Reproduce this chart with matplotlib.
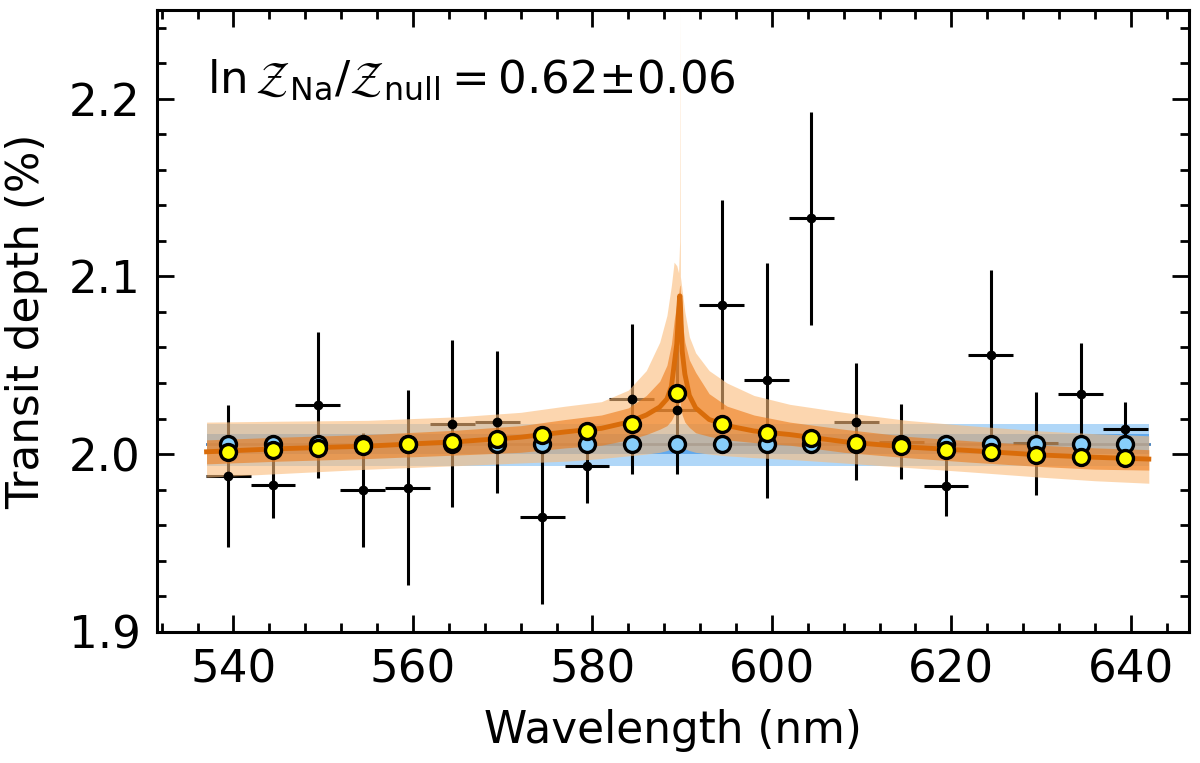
import matplotlib
matplotlib.use("Agg")
import matplotlib.pyplot as plt
from matplotlib.ticker import MultipleLocator, FormatStrFormatter

plt.rcParams['font.family'] = ['DejaVu Sans']
plt.rcParams['mathtext.fontset'] = 'dejavusans'

# binned data (nm, transit depth %)
wl = [539.4, 544.4, 549.4, 554.4, 559.4, 564.4, 569.4, 574.4, 579.4, 584.4, 589.4,
      594.4, 599.4, 604.4, 609.4, 614.4, 619.4, 624.4, 629.4, 634.4, 639.4]
wl_err = [2.5] * 21
depth = [1.9877, 1.9828, 2.0278, 1.9797, 1.9811, 2.0170, 2.0180, 1.9647, 1.9933, 2.0310, 2.0250,
         2.0841, 2.0415, 2.1327, 2.0183, 2.0070, 1.9819, 2.0555, 2.0062, 2.0336, 2.0144]
depth_err = [0.040, 0.019, 0.041, 0.032, 0.055, 0.047, 0.040, 0.049, 0.021, 0.042, 0.036,
             0.059, 0.066, 0.060, 0.033, 0.021, 0.017, 0.048, 0.029, 0.029, 0.015]

# binned models
flat_binned = [2.0058] * 21
na_binned = [2.0011, 2.0022, 2.0035, 2.0045, 2.0054, 2.0067, 2.0086, 2.0106, 2.0129, 2.0170, 2.0346,
             2.0172, 2.0121, 2.0093, 2.0065, 2.0047, 2.0024, 2.0009, 1.9996, 1.9985, 1.9976]

# flat model posterior
flat_wl = [537.0, 642.0]
flat_med = [2.0058, 2.0058]
flat_lo1 = [1.9998, 1.9998]
flat_hi1 = [2.0114, 2.0114]
flat_lo2 = [1.9935, 1.9935]
flat_hi2 = [2.0172, 2.0172]

# Na model posterior
na_wl = [537.0, 545.0, 555.0, 565.0, 572.0, 577.0, 581.0, 584.0, 586.0, 587.5, 588.3, 588.8,
         589.1, 589.4, 589.6, 589.72, 589.76, 589.8, 590.0, 590.3, 590.8, 591.5, 593.0,
         595.0, 598.0, 602.0, 608.0, 615.0, 622.0, 630.0, 636.0, 642.0]
na_med = [2.0013, 2.0030, 2.0045, 2.0070, 2.0095, 2.0125, 2.0145, 2.0180, 2.0220, 2.0265, 2.0310, 2.0380,
          2.0500, 2.0620, 2.0800, 2.0890, 2.0890, 2.0850, 2.0580, 2.0450, 2.0330, 2.0260, 2.0195,
          2.0160, 2.0130, 2.0110, 2.0070, 2.0040, 2.0020, 1.9995, 1.9982, 1.9972]
na_hi1 = [2.0080, 2.0095, 2.0110, 2.0135, 2.0160, 2.0195, 2.0220, 2.0260, 2.0330, 2.0410, 2.0500, 2.0620,
          2.0750, 2.0850, 2.0900, 2.0950, 2.0950, 2.0920, 2.0750, 2.0630, 2.0530, 2.0460, 2.0340,
          2.0270, 2.0220, 2.0180, 2.0140, 2.0100, 2.0075, 2.0050, 2.0035, 2.0025]
na_lo1 = [1.9945, 1.9960, 1.9975, 1.9995, 2.0010, 2.0035, 2.0050, 2.0080, 2.0110, 2.0140, 2.0160, 2.0190,
          2.0220, 2.0250, 2.0280, 2.0300, 2.0300, 2.0280, 2.0220, 2.0180, 2.0150, 2.0120, 2.0100,
          2.0080, 2.0065, 2.0050, 2.0010, 1.9980, 1.9955, 1.9930, 1.9915, 1.9910]
na_hi2 = [2.0180, 2.0185, 2.0190, 2.0210, 2.0235, 2.0270, 2.0295, 2.0360, 2.0470, 2.0630, 2.0780, 2.0950,
          2.1080, 2.1060, 2.1020, 2.1200, 2.2500, 2.1000, 2.0920, 2.0800, 2.0660, 2.0570, 2.0470,
          2.0400, 2.0330, 2.0280, 2.0235, 2.0190, 2.0160, 2.0130, 2.0115, 2.0103]
na_lo2 = [1.9870, 1.9890, 1.9915, 1.9935, 1.9950, 1.9960, 1.9975, 1.9990, 2.0000, 2.0010, 2.0020, 2.0030,
          2.0040, 2.0050, 2.0050, 2.0050, 2.0050, 2.0050, 2.0040, 2.0030, 2.0020, 2.0010, 2.0000,
          1.9990, 1.9980, 1.9970, 1.9950, 1.9925, 1.9900, 1.9870, 1.9850, 1.9836]

fig = plt.figure(figsize=(12, 7.63), dpi=100)
ax = fig.add_axes([0.131, 0.172, 0.860, 0.815])

# flat model bands (under the data)
ax.fill_between(flat_wl, flat_lo2, flat_hi2, color='#b0d7f8', lw=0, zorder=1)
ax.fill_between(flat_wl, flat_lo1, flat_hi1, color='#62aaee', lw=0, zorder=1.1)
ax.plot(flat_wl, flat_med, color='#3a78b8', lw=2, zorder=1.2)

# data: error lines under the Na bands, dots on top
ax.errorbar(wl, depth, xerr=wl_err, yerr=depth_err, fmt='none', ecolor='k',
            elinewidth=2.2, capsize=0, zorder=2)
ax.plot(wl, depth, 'o', color='k', ms=6, zorder=3.5)

# Na model bands
ax.fill_between(na_wl, na_lo2, na_hi2, color='#fbbc7a', alpha=0.6, lw=0, zorder=3)
ax.fill_between(na_wl, na_lo1, na_hi1, color='#ed7b19', alpha=0.6, lw=0, zorder=3.1)
ax.plot(na_wl, na_med, color='#d96c0a', lw=3.5, zorder=3.2)

# binned models
ax.plot(wl, flat_binned, 'o', color='#87cefa', mec='k', ms=11.5, mew=2.4, zorder=4)
ax.plot(wl, na_binned, 'o', color='#ffff00', mec='k', ms=11.5, mew=2.4, zorder=5)

ax.text(0.048, 0.887, r'$\ln\mathcal{Z}_{\rm Na}/\mathcal{Z}_{\rm null}=$0.62±0.06',
        transform=ax.transAxes, fontsize=32.5, ha='left', va='center')

ax.set_xlim(531.5, 646.5)
ax.set_ylim(1.9, 2.25)
ax.xaxis.set_major_locator(MultipleLocator(20))
ax.xaxis.set_minor_locator(MultipleLocator(4))
ax.yaxis.set_major_locator(MultipleLocator(0.1))
ax.yaxis.set_minor_locator(MultipleLocator(0.02))
ax.yaxis.set_major_formatter(FormatStrFormatter('%.1f'))

ax.tick_params(which='both', direction='in', top=True, right=True, width=2, labelsize=32.5, pad=12)
ax.tick_params(which='major', length=12)
ax.tick_params(which='minor', length=6.5)
for s in ax.spines.values():
    s.set_linewidth(2.2)

ax.set_xlabel('Wavelength (nm)', fontsize=31.5)
ax.set_ylabel('Transit depth (%)', fontsize=31.5)
ax.xaxis.set_label_coords(0.5, -0.125)
ax.yaxis.set_label_coords(-0.106, 0.5)

fig.savefig('out.png', dpi=100)
